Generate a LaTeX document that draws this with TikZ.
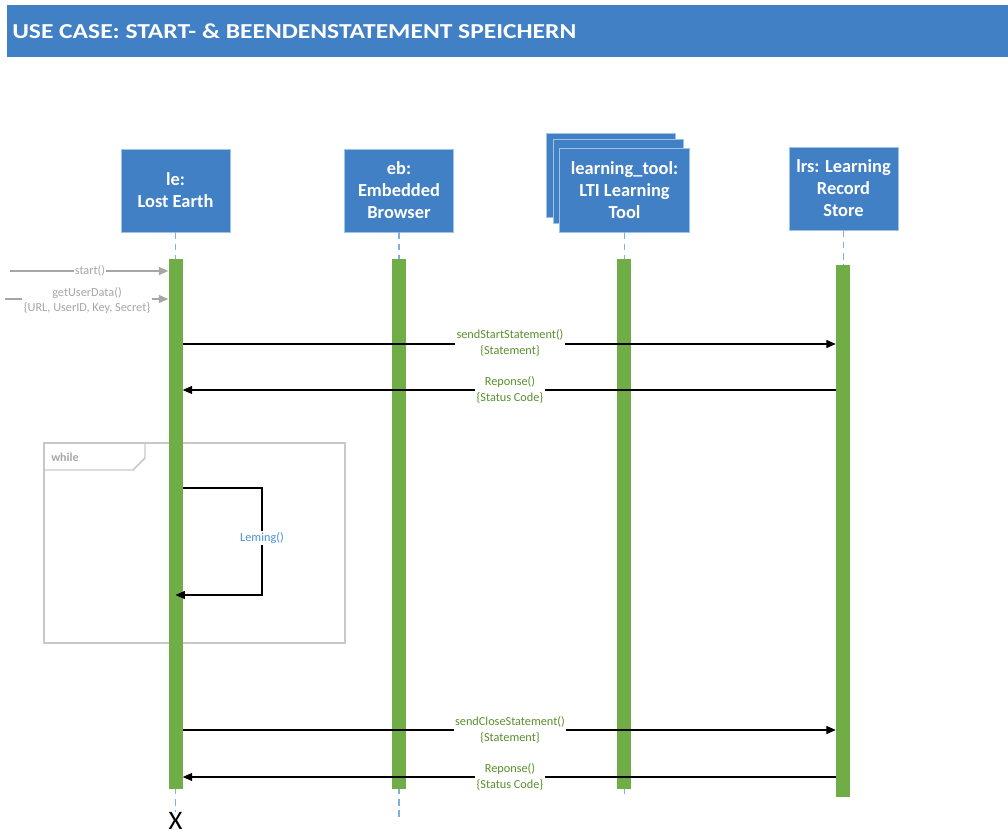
\documentclass[tikz,border=0pt]{standalone}
\usepackage{fontspec}
\setmainfont{Carlito}
\usetikzlibrary{arrows.meta}
\definecolor{hdrblue}{HTML}{4180C4}
\definecolor{boxblue}{HTML}{4180C4}
\definecolor{boxedge}{HTML}{9DC3E6}
\definecolor{lifeblue}{HTML}{7EB0E0}
\definecolor{actgreen}{HTML}{70AD47}
\definecolor{msggreen}{HTML}{5A8F2E}
\definecolor{selfblue}{HTML}{4A90D9}
\definecolor{softgray}{HTML}{A6A6A6}
\definecolor{framegray}{HTML}{C8C8C8}
\begin{document}
\begin{tikzpicture}[x=0.75pt,y=-0.75pt,
  actor/.style={fill=boxblue,draw=boxedge,line width=0.6pt,text=white,
    font=\bfseries\fontsize{13.8}{16.5}\selectfont,align=center,inner sep=0pt,
    minimum width=81.75pt,minimum height=62.25pt},
  toolbox/.style={actor,minimum width=97pt,minimum height=63pt},
  lifeline/.style={draw=lifeblue,line width=0.8pt,dash pattern=on 5pt off 3.5pt},
  actbar/.style={fill=actgreen,draw=none,minimum width=10.5pt,inner sep=0pt,anchor=north},
  msg/.style={draw=black,line width=0.8pt,-{Triangle[length=7pt,width=6pt]}},
  extmsg/.style={draw=softgray,line width=0.8pt,-{Triangle[length=7pt,width=6pt,fill=softgray]}},
  msglabel/.style={fill=white,text=msggreen,inner sep=1pt,align=center,
    font=\fontsize{9.2}{11.8}\selectfont},
  extlabel/.style={msglabel,text=softgray},
  selflabel/.style={msglabel,text=selfblue}]
\useasboundingbox (0,0) rectangle (1008,835);

% header band
\fill[hdrblue] (7,5) rectangle (1008,57);
\node[anchor=west,text=white,inner sep=0pt,
  font=\bfseries\fontsize{15.5}{18}\selectfont] (title) at (12,31)
  {\scalebox{1.235}[1.03]{USE CASE: START- \& BEENDENSTATEMENT SPEICHERN}};

% participants
\node[actor] (le) at (175.5,190.5) {le:\\Lost Earth};
\node[actor] (eb) at (399,190.5) {eb:\\Embedded\\Browser};
\node[toolbox] (ltback) at (611,175) {};
\node[toolbox] (ltmid) at (618.5,181.5) {};
\node[toolbox] (lt) at (624.5,190) {learning\_tool:\\LTI Learning\\Tool};
\node[actor] (lrs) at (843.5,188.5) {lrs: Learning\\Record\\Store};

% while frame
\draw[framegray,line width=1.1pt] (44,443) rectangle (345,643);
\draw[framegray,line width=1.1pt] (44,470) -- (133,470) -- (145,458) -- (145,443);
\node[anchor=west,text=softgray,inner sep=0pt,font=\bfseries\fontsize{9}{10}\selectfont]
  (whilelbl) at (51,457) {while};

% end marker and lifelines
\node[inner sep=0pt,font=\fontsize{20}{22}\selectfont] (endx) at (175.5,821) {X};
\coordinate (ebend) at (399,820);
\coordinate (ltend) at (624.5,795);
\draw[lifeline] (le.south) -- (endx.north);
\draw[lifeline] (eb.south) -- (ebend);
\draw[lifeline] (lt.south) -- (ltend);
\draw[lifeline] (lrs.south) -- (843.5,266);

% activation bars
\node[actbar,minimum height=397.5pt] (leA) at (175.5,259) {};
\node[actbar,minimum height=397.5pt] (ebA) at (399,259) {};
\node[actbar,minimum height=397.5pt] (ltA) at (624,259) {};
\node[actbar,minimum height=399pt] (lrsA) at (843,265) {};

% message rows
\coordinate (ystart) at (0,271);
\coordinate (yuser) at (0,299);
\coordinate (ysend) at (0,344);
\coordinate (yresp) at (0,390);
\coordinate (yloopa) at (0,488);
\coordinate (yloopb) at (0,595);
\coordinate (yclose) at (0,730);
\coordinate (yrespb) at (0,777);
\coordinate (srcstart) at (10,271);
\coordinate (srcuser) at (5,299);
\coordinate (loopa) at (262,488);
\coordinate (loopb) at (262,595);

% incoming calls
\draw[extmsg] (srcstart) -- (leA.west |- ystart);
\node[extlabel] (lstart) at (90,271) {start()};
\draw[extmsg] (srcuser) -- (leA.west |- yuser);
\node[extlabel] (luser) at (87,300.5) {getUserData()\\\{URL, UserID, Key, Secret\}};

% start statement
\draw[msg] (leA.east |- ysend) -- (lrsA.west |- ysend);
\node[msglabel] (lsend) at (510,343) {sendStartStatement()\\\{Statement\}};
\draw[msg] (lrsA.west |- yresp) -- (leA.east |- yresp);
\node[msglabel] (lresp) at (510,389.5) {Reponse()\\\{Status Code\}};

% learning loop
\draw[msg] (leA.east |- yloopa) -- (loopa) -- (loopb) -- (leA.center |- yloopb);
\node[selflabel] (lloop) at (262,538) {Leming()};

% close statement
\draw[msg] (leA.east |- yclose) -- (lrsA.west |- yclose);
\node[msglabel] (lclose) at (510,729.5) {sendCloseStatement()\\\{Statement\}};
\draw[msg] (lrsA.west |- yrespb) -- (leA.east |- yrespb);
\node[msglabel] (lrespb) at (510,777) {Reponse()\\\{Status Code\}};
\end{tikzpicture}
\end{document}
